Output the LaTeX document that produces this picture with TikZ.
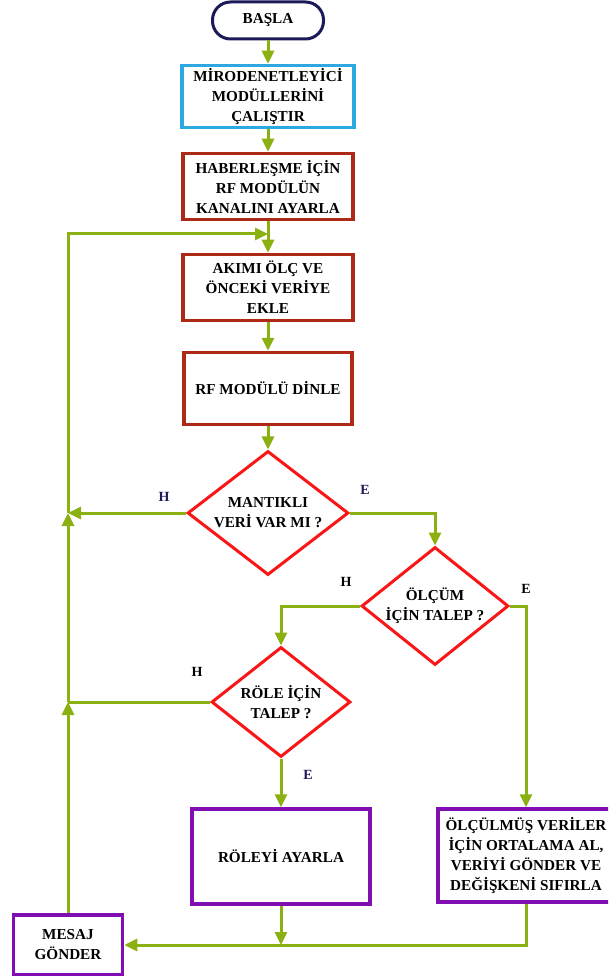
\documentclass[tikz,border=0pt]{standalone}
\usepackage{fontspec}
\setmainfont{Liberation Serif}
\usetikzlibrary{shapes.geometric,arrows.meta}
\definecolor{flowgreen}{RGB}{138,176,18}
\definecolor{boxred}{RGB}{172,42,22}
\definecolor{boxblue}{RGB}{45,168,225}
\definecolor{boxpurple}{RGB}{128,14,178}
\definecolor{decred}{RGB}{250,22,22}
\definecolor{navy}{RGB}{28,26,88}
\begin{document}
\begin{tikzpicture}[x=1pt,y=-1pt,
  every node/.style={font=\fontsize{15.2}{20}\selectfont\bfseries, align=center, inner sep=0pt},
  startbox/.style={draw=navy, line width=3pt, rounded corners=18pt, fill=white},
  procbox/.style={line width=3.5pt, fill=white},
  decision/.style={draw=decred, line width=3pt, diamond, aspect=1.3, fill=white},
  lab/.style={font=\fontsize{14}{16}\selectfont\bfseries},
  flow/.style={draw=flowgreen, line width=3pt, -{Triangle[length=13pt,width=12pt]}},
  plainline/.style={draw=flowgreen, line width=3pt}
]
\useasboundingbox (0,0) rectangle (608,976);
\clip (0,0) rectangle (608,976);

% process steps
\node[startbox, minimum width=111pt, minimum height=37pt] (start) at (268,20.5) {BAŞLA};
\node[procbox, draw=boxblue, minimum width=172pt, minimum height=62pt] (init) at (268,96.5)
  {MİRODENETLEYİCİ\\MODÜLLERİNİ\\ÇALIŞTIR};
\node[procbox, draw=boxred, minimum width=170pt, minimum height=66pt] (chan) at (268,186.5)
  {HABERLEŞME İÇİN\\RF MODÜLÜN\\KANALINI AYARLA};
\node[procbox, draw=boxred, minimum width=170pt, minimum height=66pt] (meas) at (268,287.5)
  {AKIMI ÖLÇ VE\\ÖNCEKİ VERİYE\\EKLE};
\node[procbox, draw=boxred, minimum width=168pt, minimum height=72pt] (listen) at (268,388.5)
  {RF MODÜLÜ DİNLE};

% decisions
\node[decision, minimum width=161pt, minimum height=124pt] (valid) at (268,513)
  {MANTIKLI\\VERİ VAR MI ?};
\node[decision, minimum width=147pt, minimum height=118pt] (mreq) at (435,606)
  {ÖLÇÜM\\İÇİN TALEP ?};
\node[decision, minimum width=139pt, minimum height=110pt] (rreq) at (281,702)
  {RÖLE İÇİN\\TALEP ?};

% actions
\node[procbox, draw=boxpurple, minimum width=178pt, minimum height=95pt] (relay) at (281,856.5)
  {RÖLEYİ AYARLA};
\node[procbox, draw=boxpurple, minimum width=176pt, minimum height=93pt] (avg) at (526,855.5)
  {ÖLÇÜLMÜŞ VERİLER\\İÇİN ORTALAMA AL,\\VERİYİ GÖNDER VE\\DEĞİŞKENİ SIFIRLA};
\node[procbox, draw=boxpurple, minimum width=109pt, minimum height=60pt] (msg) at (68,945)
  {MESAJ\\GÖNDER};

% junctions of the return path
\coordinate (jr) at (68,702);
\coordinate (jv) at (68,513);
\coordinate (jtop) at (68,234);
\coordinate (jin) at (268,234);

% main sequence
\draw[flow] (start) -- (init);
\draw[flow] (init) -- (chan);
\draw[flow] (chan) -- (meas);
\draw[flow] (meas) -- (listen);
\draw[flow] (listen) -- (valid);
\draw[flow] (valid.east) -| (mreq.north);
\draw[flow] (mreq.west) -| (rreq.north);
\draw[flow] (mreq.east) -| (avg.north);
\draw[flow] (rreq.south) -- (relay.north);

% return path
\draw[flow] (valid.west) -- (jv);
\draw[plainline] (rreq.west) -- (jr);
\draw[flow] (msg.north) -- (jr);
\draw[flow] (jr) -- (jv);
\draw[flow, line join=miter] (jv) -- (jtop) -- (jin);
\draw[flow] (avg.south) |- (msg.east);
\draw[flow] (relay.south) -- (relay.south |- msg.east);

% branch labels
\node[lab, text=navy] (h1) at (164,497) {H};
\node[lab, text=navy] (e1) at (365,490) {E};
\node[lab] (h2) at (346,582) {H};
\node[lab] (e2) at (526,589) {E};
\node[lab] (h3) at (197,672) {H};
\node[lab, text=navy] (e3) at (308,775) {E};
\end{tikzpicture}
\end{document}
